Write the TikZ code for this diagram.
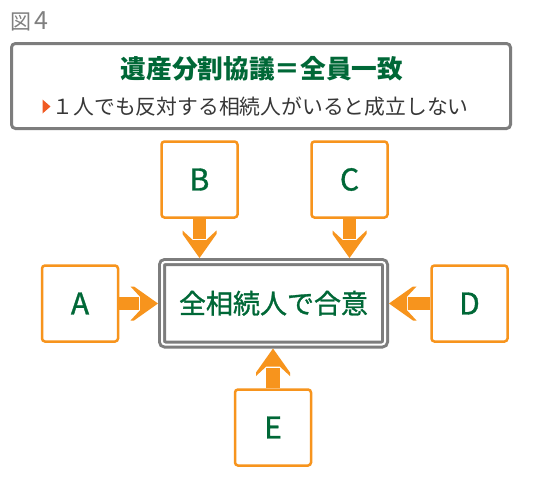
\documentclass[tikz,border=0pt]{standalone}
\usepackage{fontspec}
\setmainfont{Noto Sans CJK JP}
\newfontfamily\medfont{Noto Sans CJK JP}[FakeBold=1.2]
\usetikzlibrary{calc}
\definecolor{grn}{RGB}{0,104,55}
\definecolor{orc}{RGB}{247,148,29}
\definecolor{grayb}{RGB}{125,125,125}
\definecolor{txtg}{RGB}{55,55,55}
\definecolor{tri}{RGB}{240,90,34}
\definecolor{figc}{RGB}{128,128,128}
\begin{document}
\begin{tikzpicture}[x=1pt,y=-1pt,
  box/.style={draw=orc,line width=2.5pt,rounded corners=3pt,fill=white,minimum width=76pt,minimum height=76pt,inner sep=0pt,font=\medfont\fontsize{30}{32}\selectfont,text=grn},
  shaft/.style={orc,line width=13.5pt},
  head/.pic={\fill[orc] (0,0) -- (-24,-17) -- (-27.5,-17) -- (-18,-6.75) -- (-18,6.75) -- (-27.5,17) -- (-24,17) -- cycle;}]
\useasboundingbox (0,0) rectangle (550,480);
\fill[white] (0,0) rectangle (550,480);
\node[anchor=west,text=figc,font=\fontsize{21}{23}\selectfont,inner sep=0pt] (fig) at (10,21) {図\hspace{3pt}{\fontsize{25}{27}\selectfont 4}};
\node[draw=grayb,line width=3pt,rounded corners=4pt,minimum width=499pt,minimum height=85pt,inner sep=0pt] (top) at (261,86) {};
\node[font=\bfseries\fontsize{25.7}{28}\selectfont,text=grn,inner sep=0pt] (title) at (262,69) {遺産分割協議＝全員一致};
\node[font=\fontsize{20.8}{23}\selectfont,text=txtg,anchor=west,inner sep=0pt] (sub) at (52.5,107) {１人でも反対する相続人がいると成立しない};
\fill[tri] (42.5,99.5) -- (50.5,106.5) -- (42.5,113.5) -- cycle;
\node[draw=grayb,line width=3pt,double=white,double distance=2pt,rounded corners=3pt,minimum width=223pt,minimum height=82.5pt,inner sep=0pt,outer sep=4pt,font=\medfont\fontsize{27}{30}\selectfont,text=grn] (ctr) at (273.5,303.25) {全相続人で合意};
\node[box] (A) at (80,303.5) {A};
\node[box] (B) at (199.5,179.5) {B};
\node[box] (C) at (349.5,179.5) {C};
\node[box] (D) at (469.5,303.5) {D};
\node[box] (E) at (273,427.5) {E};
\draw[shaft] (A.east) -- ($(A.east -| ctr.west)+(-19,0)$);
\pic[rotate=0] at (A.east -| ctr.west) {head};
\draw[shaft] (D.west) -- ($(D.west -| ctr.east)+(19,0)$);
\pic[rotate=180] at (D.west -| ctr.east) {head};
\draw[shaft] (B.south) -- ($(B.south |- ctr.north)+(0,-19)$);
\pic[rotate=-90] at (B.south |- ctr.north) {head};
\draw[shaft] (C.south) -- ($(C.south |- ctr.north)+(0,-19)$);
\pic[rotate=-90] at (C.south |- ctr.north) {head};
\draw[shaft] (E.north) -- ($(E.north |- ctr.south)+(0,19)$);
\pic[rotate=90] at (E.north |- ctr.south) {head};
\end{tikzpicture}
\end{document}
